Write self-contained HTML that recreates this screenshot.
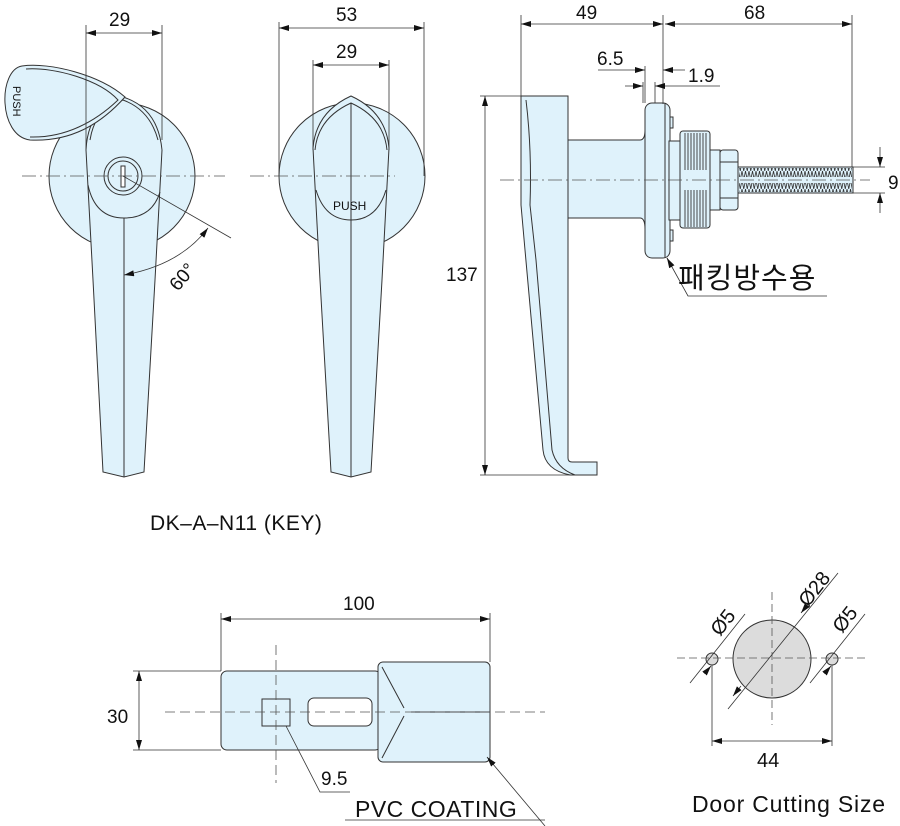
<!DOCTYPE html>
<html><head><meta charset="utf-8"><style>
html,body{margin:0;padding:0;background:#fff}
svg{display:block}
text{font-family:"Liberation Sans","Noto Sans CJK KR",sans-serif;fill:#111}
</style></head><body>
<svg width="900" height="826" viewBox="0 0 900 826" xmlns="http://www.w3.org/2000/svg">
<defs>
<marker id="a" viewBox="0 0 10 6" refX="10" refY="3" markerWidth="10" markerHeight="6" orient="auto-start-reverse" markerUnits="userSpaceOnUse"><path d="M0,0 L10,3 L0,6 Z" fill="#111"/></marker>
<pattern id="zz" width="3.5" height="9" patternUnits="userSpaceOnUse"><path d="M0,0 L1.75,9 L3.5,0" fill="none" stroke="#333" stroke-width="0.8"/></pattern>
<pattern id="vl" width="3" height="10" patternUnits="userSpaceOnUse"><path d="M1,0 V10" stroke="#333" stroke-width="0.9"/></pattern>
</defs>
<g stroke="#333" stroke-width="1" fill="#dff2fb">
<circle cx="122" cy="176" r="73"/>
<path d="M86,150 Q88,108 123,97 Q158,108 162,150 L155,280 L144,472 L124,477 L103,472 L93,280 Z"/>
<path d="M124,218 V477" fill="none"/>
<path d="M88,185 Q95,218 124,218 Q152,218 160,192" fill="none"/>
<path d="M90,140 Q95,108 123,100 Q150,110 158,140" fill="none"/>
<circle cx="123" cy="176" r="19"/><circle cx="123" cy="176" r="15" fill="none"/>
<rect x="121" y="166" width="4" height="21" fill="#fff"/>
<path d="M22,66 C50,62 100,75 125,97 C100,125 70,142 30,140 C-2,136 -2,70 22,66 Z"/>
<path d="M26,69 C55,67 100,80 118,100 C95,122 65,138 30,137" fill="none"/>
</g>
<text x="0" y="0" font-size="11" transform="translate(13,86) rotate(90)">PUSH</text>
<g stroke="#333" stroke-width="1" fill="#dff2fb">
<circle cx="352" cy="176" r="73"/>
<path d="M313,148 Q316,112 351,96 Q386,112 389,148 L382,280 L371,472 L351,477 L331,472 L320,280 Z"/>
<path d="M316,190 Q325,220 351,220 Q377,220 386,190" fill="none"/>
<path d="M315,150 Q318,118 351,103 Q384,118 387,150" fill="none"/>
<path d="M351,103 V477" fill="none"/>
</g>
<text x="333" y="210" font-size="12">PUSH</text>
<g stroke="#333" stroke-width="1" fill="#dff2fb">
<path d="M568,140 H640 Q645,140 645,130 V229 Q645,218 640,218 H568 Z"/>
<rect x="645" y="103" width="25" height="155" rx="7"/>
<path d="M665,103 V258" fill="none"/>
<rect x="670" y="117" width="3" height="11"/><rect x="670" y="230" width="3" height="11"/>
<rect x="669" y="141" width="11" height="79"/>
<rect x="680" y="131" width="30" height="97" rx="3"/>
<rect x="683" y="133" width="24" height="37" fill="url(#vl)" stroke="none"/>
<rect x="683" y="190" width="24" height="37" fill="url(#vl)" stroke="none"/>
<rect x="710" y="150" width="10" height="60"/>
<rect x="720" y="150" width="18" height="60" rx="3"/>
<path d="M720,162 H738 M720,198 H738" fill="none"/>
<rect x="738" y="167" width="115" height="26"/>
<rect x="739" y="168" width="113" height="9" fill="url(#zz)" stroke="none"/>
<rect x="739" y="183" width="113" height="9" fill="url(#zz)" stroke="none"/>
<path d="M521,96 H568 V458 Q568,462 572,462 H597 V475 H570 Q545,470 543,450 L525,250 L521,205 Z"/>
<path d="M526,100 Q532,150 530,205 L536,260 L552,450 Q556,468 575,475" fill="none"/>
</g>
<g stroke="#555" stroke-width="0.8" stroke-dasharray="14,4,2,4" fill="none">
<path d="M22,176 H225 M250,176 H395 M500,180 H870"/>
</g>
<g stroke="#333" stroke-width="0.8" fill="none">
<path d="M86,25 V150 M162,25 V140"/>
<path d="M86,33 H162" marker-start="url(#a)" marker-end="url(#a)"/>
<path d="M279,22 V176 M424,22 V176 M313,60 V150 M389,60 V150"/>
<path d="M279,28 H424" marker-start="url(#a)" marker-end="url(#a)"/>
<path d="M313,65 H389" marker-start="url(#a)" marker-end="url(#a)"/>
<path d="M123,176 L231,238"/>
<path d="M124,275 Q180,265 208,228" marker-start="url(#a)" marker-end="url(#a)"/>
<path d="M521,15 V96 M663,15 V104 M852,15 V167"/>
<path d="M521,24 H663" marker-start="url(#a)" marker-end="url(#a)"/>
<path d="M665,24 H852" marker-start="url(#a)" marker-end="url(#a)"/>
<path d="M598,70 H645" marker-end="url(#a)"/><path d="M685,70 H663" marker-end="url(#a)"/>
<path d="M645,66 V103 M643,82 V103 M655,82 V103"/>
<path d="M625,86 H643" marker-end="url(#a)"/><path d="M720,86 H655" marker-end="url(#a)"/>
<path d="M480,96 H521 M480,475 H570"/>
<path d="M485,96 V475" marker-start="url(#a)" marker-end="url(#a)"/>
<path d="M853,167 H885 M853,193 H885"/>
<path d="M880,147 V167" marker-end="url(#a)"/><path d="M880,213 V193" marker-end="url(#a)"/>
<path d="M827,296 H688 L667,258" /><path d="M672,267 L667,258" marker-end="url(#a)"/>
</g>
<g font-size="19">
<text x="109" y="26">29</text>
<text x="336" y="21">53</text>
<text x="336" y="58">29</text>
<text x="576" y="19">49</text>
<text x="744" y="19">68</text>
<text x="597" y="65">6.5</text>
<text x="688" y="82">1.9</text>
<text x="888" y="189">9</text>
<text x="446" y="281">137</text>
<text x="0" y="0" transform="translate(178,292) rotate(-50)">60°</text>
</g>
<text x="678" y="288" font-size="29" letter-spacing="1">패킹방수용</text>
<text x="150" y="530" font-size="21" letter-spacing="0.5">DK–A–N11 (KEY)</text>
<g stroke="#333" stroke-width="1" fill="#dff2fb">
<rect x="221" y="671" width="160" height="79" rx="6"/>
<rect x="378" y="662" width="112" height="100" rx="5"/>
<rect x="262" y="699" width="28" height="27"/>
<rect x="308" y="698" width="64" height="28" rx="6" fill="#fff"/>
<path d="M382,667 L404,708 M404,716 L382,758 M411,712 H490" fill="none"/>
</g>
<g stroke="#555" stroke-width="0.8" stroke-dasharray="10,5" fill="none">
<path d="M165,712 H545 M276,645 V783"/>
</g>
<g stroke="#333" stroke-width="0.8" fill="none">
<path d="M221,613 V671 M490,613 V662"/>
<path d="M221,619 H490" marker-start="url(#a)" marker-end="url(#a)"/>
<path d="M133,671 H221 M133,750 H221"/>
<path d="M139,671 V750" marker-start="url(#a)" marker-end="url(#a)"/>
<path d="M286,726 L320,792 H350"/>
<path d="M545,826 L487,757" marker-end="url(#a)"/>
<path d="M345,820 H545"/>
</g>
<g font-size="19">
<text x="343" y="610">100</text>
<text x="107" y="723">30</text>
<text x="321" y="785">9.5</text>
</g>
<text x="355" y="817" font-size="23" letter-spacing="0.5">PVC  COATING</text>
<circle cx="772" cy="659" r="39" fill="#dcdcdc" stroke="#333"/>
<circle cx="712" cy="659" r="6" fill="#dcdcdc" stroke="#333"/>
<circle cx="832" cy="659" r="6" fill="#dcdcdc" stroke="#333"/>
<g stroke="#555" stroke-width="0.8" stroke-dasharray="8,4" fill="none">
<path d="M677,658 H865 M772,592 V725"/>
</g>
<g stroke="#333" stroke-width="0.8" fill="none">
<path d="M712,665 V746 M832,665 V746"/>
<path d="M712,741 H832" marker-start="url(#a)" marker-end="url(#a)"/>
<path d="M728,709 L838,573"/>
<path d="M741,686 L733,696" marker-end="url(#a)"/><path d="M801,613 L809,603" marker-start="url(#a)"/>
<path d="M690,683 L745,614"/><path d="M711,666 L705,673" marker-start="url(#a)"/>
<path d="M810,683 L865,614"/><path d="M831,666 L825,673" marker-start="url(#a)"/>
</g>
<g font-size="20">
<text x="0" y="0" transform="translate(720,637) rotate(-52)">Ø5</text>
<text x="0" y="0" transform="translate(808,608) rotate(-52)">Ø28</text>
<text x="0" y="0" transform="translate(842,634) rotate(-52)">Ø5</text>
<text x="757" y="767">44</text>
</g>
<text x="692" y="812" font-size="23" letter-spacing="0.8">Door Cutting Size</text>
</svg>
</body></html>
